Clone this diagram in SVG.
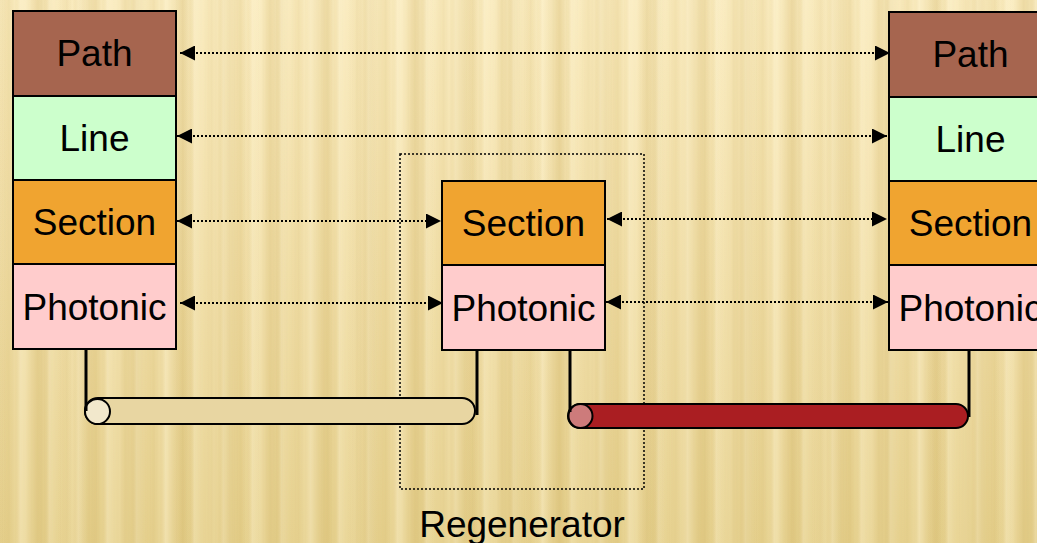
<svg xmlns="http://www.w3.org/2000/svg" width="1037" height="543" viewBox="0 0 1037 543">
  <defs>
    <linearGradient id="bgV" x1="0" y1="0" x2="0" y2="1">
      <stop offset="0" stop-color="#F9EABD"/>
      <stop offset="0.5" stop-color="#F0DDA6"/>
      <stop offset="1" stop-color="#E6D18F"/>
    </linearGradient>
    <linearGradient id="stripeA" x1="0" y1="0" x2="1" y2="0">
      <stop offset="0" stop-color="#C8A850" stop-opacity="0"/>
      <stop offset="0.3" stop-color="#C8A850" stop-opacity="0.16"/>
      <stop offset="0.5" stop-color="#C8A850" stop-opacity="0.04"/>
      <stop offset="0.7" stop-color="#FFF6D8" stop-opacity="0.28"/>
      <stop offset="1" stop-color="#FFF6D8" stop-opacity="0"/>
    </linearGradient>
    <linearGradient id="stripeB" x1="0" y1="0" x2="1" y2="0">
      <stop offset="0" stop-color="#FFF4D0" stop-opacity="0"/>
      <stop offset="0.4" stop-color="#FFF4D0" stop-opacity="0.2"/>
      <stop offset="0.75" stop-color="#BFA04A" stop-opacity="0.12"/>
      <stop offset="1" stop-color="#BFA04A" stop-opacity="0"/>
    </linearGradient>
    <pattern id="grainA" x="0" y="0" width="29" height="543" patternUnits="userSpaceOnUse">
      <rect x="0" y="0" width="29" height="543" fill="url(#stripeA)"/>
    </pattern>
    <pattern id="grainB" x="7" y="0" width="47" height="543" patternUnits="userSpaceOnUse">
      <rect x="0" y="0" width="47" height="543" fill="url(#stripeB)"/>
    </pattern>
    <marker id="arrow" viewBox="0 0 15 15" refX="15" refY="7.5" markerWidth="15" markerHeight="15" markerUnits="userSpaceOnUse" orient="auto-start-reverse">
      <path d="M0,0 L15,7.5 L0,15 Z" fill="#000"/>
    </marker>
    <style>
      .layer { stroke: #000; stroke-width: 2; }
      .path { fill: #A6654F; }
      .line { fill: #CCFFCC; }
      .section { fill: #F0A430; }
      .photonic { fill: #FFCCCC; }
      .label { font-family: "Liberation Sans", Arial, sans-serif; font-size: 37px; fill: #000; text-anchor: middle; }
      .peer { fill: none; stroke: #000; stroke-width: 2; stroke-dasharray: 2 2; marker-start: url(#arrow); marker-end: url(#arrow); }
      .lead { fill: none; stroke: #000; stroke-width: 3; }
      .cable { stroke: #000; stroke-width: 2; }
    </style>
  </defs>

  <!-- textured backdrop -->
  <rect x="0" y="0" width="1037" height="543" fill="url(#bgV)"/>
  <rect x="0" y="0" width="1037" height="543" fill="url(#grainA)"/>
  <rect x="0" y="0" width="1037" height="543" fill="url(#grainB)"/>

  <!-- regenerator boundary -->
  <g id="regenerator">
    <rect x="400" y="154" width="244" height="335" fill="none" stroke="#000" stroke-width="1.5" stroke-dasharray="2 2"/>
    <text class="label" x="522" y="537">Regenerator</text>
  </g>

  <!-- optical fibre spans -->
  <g id="fibre-left">
    <rect class="cable" x="85" y="398" width="390" height="26" rx="13" fill="#E8D6A2"/>
    <circle class="cable" cx="97.5" cy="411.5" r="12.5" fill="#F2E8CC"/>
  </g>
  <g id="fibre-right">
    <rect class="cable" x="568" y="404" width="400" height="24" rx="12" fill="#AA1E22"/>
    <circle class="cable" cx="580.5" cy="416" r="12" fill="#CD7B7B"/>
  </g>

  <!-- terminal A -->
  <g id="terminal-a">
    <rect class="layer path" x="13" y="11" width="163" height="85"/>
    <rect class="layer line" x="13" y="96" width="163" height="84"/>
    <rect class="layer section" x="13" y="180" width="163" height="84"/>
    <rect class="layer photonic" x="13" y="264" width="163" height="85"/>
    <text class="label" x="94.5" y="66">Path</text>
    <text class="label" x="94.5" y="151">Line</text>
    <text class="label" x="94.5" y="235">Section</text>
    <text class="label" x="94.5" y="320">Photonic</text>
  </g>

  <!-- regenerator stack -->
  <g id="regen-stack">
    <rect class="layer section" x="442" y="181" width="163" height="84"/>
    <rect class="layer photonic" x="442" y="265" width="163" height="85"/>
    <text class="label" x="523.5" y="236">Section</text>
    <text class="label" x="523.5" y="321">Photonic</text>
  </g>

  <!-- terminal B -->
  <g id="terminal-b">
    <rect class="layer path" x="889" y="12" width="163" height="85"/>
    <rect class="layer line" x="889" y="97" width="163" height="84"/>
    <rect class="layer section" x="889" y="181" width="163" height="84"/>
    <rect class="layer photonic" x="889" y="265" width="163" height="85"/>
    <text class="label" x="970.5" y="67">Path</text>
    <text class="label" x="970.5" y="152">Line</text>
    <text class="label" x="970.5" y="236">Section</text>
    <text class="label" x="970.5" y="321">Photonic</text>
  </g>

  <!-- peer relations and physical leads -->
  <g id="connectors">
    <path class="peer" d="M180,53 L890,53"/>
    <path class="peer" d="M177,136 L887,136"/>
    <path class="peer" d="M177,221 L441,221"/>
    <path class="peer" d="M180,303 L443,303"/>
    <path class="peer" d="M607,219 L887,219"/>
    <path class="peer" d="M606,302 L888,302"/>
    <path class="lead" d="M86,349 L86,411"/>
    <path class="lead" d="M477,350 L477,415"/>
    <path class="lead" d="M570,350 L570,412"/>
    <path class="lead" d="M969,350 L969,417"/>
  </g>
</svg>
